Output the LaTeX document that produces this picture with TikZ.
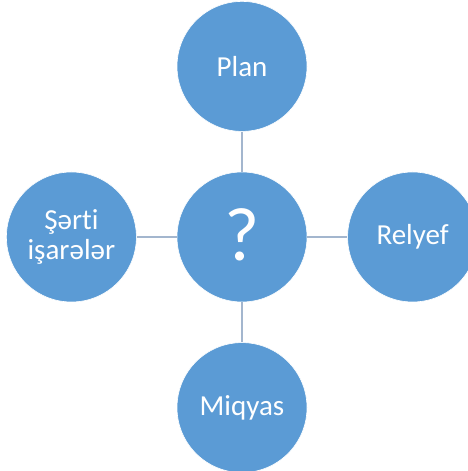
\documentclass[tikz,border=0pt]{standalone}
\usepackage{fontspec}
\setmainfont[Ligatures=NoCommon]{Carlito}
\usetikzlibrary{positioning}
\definecolor{dotblue}{HTML}{5B9BD5}
\definecolor{linkgray}{HTML}{A3B6CE}

\begin{document}
\begin{tikzpicture}[x=1pt,y=1pt,
		bubble/.style={circle,fill=dotblue,draw=white,line width=0.6pt,minimum size=130pt,inner sep=0pt,
			text=white,align=center,font=\fontsize{29}{30}\selectfont},
		link/.style={draw=linkgray,line width=2pt}]
				\useasboundingbox (0,0) rectangle (468,471);
				\clip (0,0) rectangle (468,471);
				
				\node[bubble,font=\fontsize{76}{76}\selectfont] (sual) at (242,234) {\raisebox{5pt}{?}};
				\node[bubble,above=40pt of sual] (plan) {Plan};
				\node[bubble,right=40pt of sual] (relyef) {Relyef};
				\node[bubble,below=40pt of sual] (miqyas) {Miqyas};
				\node[bubble,left=40pt of sual] (serti) {Şərti\\işarələr};
				
				\draw[link] (sual) -- (plan);
				\draw[link] (sual) -- (relyef);
				\draw[link] (sual) -- (miqyas);
				\draw[link] (sual) -- (serti);
			\end{tikzpicture}
\end{document}
